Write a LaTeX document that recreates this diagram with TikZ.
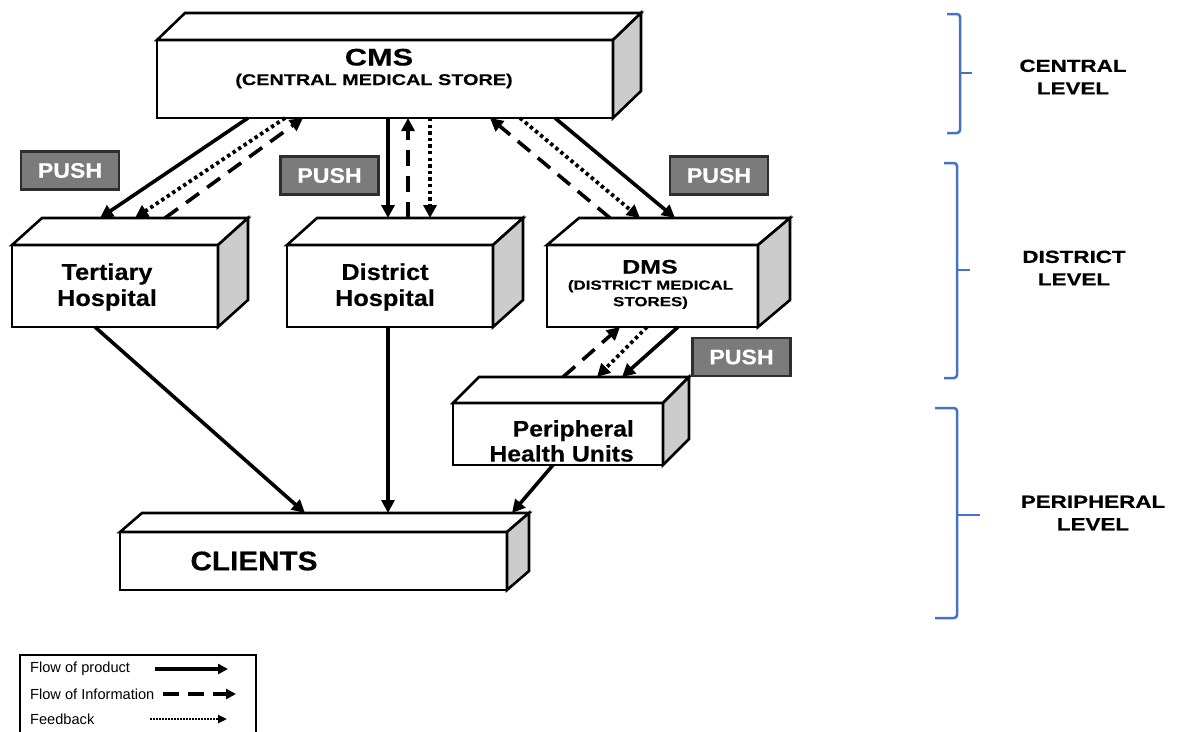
\documentclass[tikz,border=0pt]{standalone}
\usepackage{fontspec}
\setmainfont{Liberation Sans}
\newfontfamily\wide{Liberation Sans}[FakeStretch=1.1,FakeBold=0.3]
\newfontfamily\wider{Liberation Sans}[FakeStretch=1.28,FakeBold=0.3]
\newfontfamily\widest{Liberation Sans}[FakeStretch=1.28,FakeBold=0.6]
\usetikzlibrary{arrows.meta,calc}

\definecolor{sidegray}{HTML}{CCCCCC}
\definecolor{pushgray}{HTML}{7B7B7B}
\definecolor{pushedge}{HTML}{2E2E2E}
\definecolor{levelblue}{HTML}{4472C4}

% front face of a block, with its top and right faces drawn from its anchors
\newcommand\blockfaces[3]{%
  \draw[face, fill=white] (#1.north west) -- ++(#2,-#3)
    -- ([shift={(#2,-#3)}]#1.north east) -- (#1.north east) -- cycle;
  \draw[face, fill=sidegray] (#1.north east) -- ++(#2,-#3)
    -- ([shift={(#2,-#3)}]#1.south east) -- (#1.south east) -- cycle;}

\begin{document}
\begin{tikzpicture}[x=1pt,y=-1pt,
  face/.style={draw=black, line width=2.6pt, line join=miter},
  front/.style={face, fill=white, rectangle, inner sep=0pt, outer sep=0pt},
  boxtext/.style={font=\wide\bfseries, align=center, inner sep=0pt},
  pushbox/.style={draw=pushedge, fill=pushgray, line width=2.4pt, minimum width=98pt,
    minimum height=38pt, inner sep=0pt, text=white, font=\wide\bfseries\fontsize{21}{22}\selectfont},
  tip/.style={-{Triangle[length=13pt,width=13pt]}},
  product/.style={tip, line width=3.6pt},
  info/.style={tip, line width=3.6pt, dash pattern=on 16pt off 10pt},
  feedback/.style={tip, line width=3.8pt, dash pattern=on 3.4pt off 3.2pt},
  bracket/.style={draw=levelblue, line width=2.5pt, rounded corners=3pt},
  leveltext/.style={font=\widest\bfseries\fontsize{17.5}{22.5}\selectfont, align=center, inner sep=0pt},
  legendtext/.style={font=\fontsize{14.6}{16}\selectfont, anchor=west, inner sep=0pt}
]
\useasboundingbox (0,0) rectangle (1177,731);

% ---- blocks ----
\node[front, minimum width=456pt, minimum height=78pt] (cms) at (385,79) {};
\blockfaces{cms}{28}{27}
\node[boxtext, anchor=base, font=\wider\bfseries\fontsize{24}{26}\selectfont] (cmsname) at (379,65.5) {CMS};
\node[boxtext, anchor=base, font=\wider\bfseries\fontsize{15.5}{17}\selectfont] (cmsfull) at (374,85) {(CENTRAL MEDICAL STORE)};

\node[front, minimum width=206pt, minimum height=82pt] (tert) at (115,286) {};
\blockfaces{tert}{30}{27}
\node[boxtext, font=\wide\bfseries\fontsize{23}{26}\selectfont] (terttext) at (107,287) {Tertiary\\Hospital};

\node[front, minimum width=206pt, minimum height=82pt] (dhosp) at (390,286) {};
\blockfaces{dhosp}{30}{27}
\node[boxtext, font=\wide\bfseries\fontsize{23}{26}\selectfont] (dhosptext) at (385,287) {District\\Hospital};

\node[front, minimum width=211pt, minimum height=82pt] (dms) at (652.5,286) {};
\blockfaces{dms}{32}{27}
\node[boxtext, anchor=base, font=\wider\bfseries\fontsize{19.5}{21}\selectfont] (dmsname) at (650,273.5) {DMS};
\node[boxtext, font=\wider\bfseries\fontsize{13.2}{16.5}\selectfont] (dmsfull) at (650.5,294.5) {(DISTRICT MEDICAL\\STORES)};

\node[front, minimum width=210pt, minimum height=62pt] (phu) at (558,434) {};
\blockfaces{phu}{26}{26}
\node[boxtext, align=right, anchor=east, font=\wide\bfseries\fontsize{22.5}{25}\selectfont] (phutext) at (634,441) {Peripheral\\Health Units};

\node[front, minimum width=387pt, minimum height=58pt] (clients) at (313.5,561) {};
\blockfaces{clients}{22}{19}
\node[boxtext, font=\wide\bfseries\fontsize{27}{28}\selectfont] (clientstext) at (254,561) {CLIENTS};

% ---- PUSH tags ----
\node[pushbox] (push1) at (70,170.5) {PUSH};
\node[pushbox] (push2) at (329.5,175.5) {PUSH};
\node[pushbox] (push3) at (719,175.5) {PUSH};
\node[pushbox] (push4) at (741.5,357) {PUSH};

% ---- CMS <-> tertiary hospital ----
\draw[product]  ([shift={(-137,0)}]cms.south) -- ([shift={(-15,-27)}]tert.north);
\draw[feedback] ([shift={(-100,0)}]cms.south) -- ([shift={(20,-27)}]tert.north);
\draw[info]     ([shift={(50,-27)}]tert.north) -- ([shift={(-82,0)}]cms.south);

% ---- CMS <-> district hospital ----
\draw[product]  ([shift={(3,0)}]cms.south) -- ([shift={(-2,-27)}]dhosp.north);
\draw[info]     ([shift={(18,-27)}]dhosp.north) -- ([shift={(23,0)}]cms.south);
\draw[feedback] ([shift={(45,0)}]cms.south) -- ([shift={(40,-27)}]dhosp.north);

% ---- CMS <-> DMS ----
\draw[info]     ([shift={(-42.5,-27)}]dms.north) -- ([shift={(105,0)}]cms.south);
\draw[feedback] ([shift={(135,0)}]cms.south) -- ([shift={(-12.5,-27)}]dms.north);
\draw[product]  ([shift={(170,0)}]cms.south) -- ([shift={(22.5,-27)}]dms.north);

% ---- DMS <-> peripheral health units ----
\draw[info]     ([shift={(5,-26)}]phu.north) -- ([shift={(-32.5,0)}]dms.south);
\draw[feedback] ([shift={(-5.5,0)}]dms.south) -- ([shift={(39,-26)}]phu.north);
\draw[product]  ([shift={(25.5,0)}]dms.south) -- ([shift={(64,-26)}]phu.north);

% ---- supply to clients ----
\draw[product] ([shift={(-20,0)}]tert.south) -- ([shift={(-8.5,-19)}]clients.north);
\draw[product] ([shift={(-2,0)}]dhosp.south) -- ([shift={(74.5,-19)}]clients.north);
\draw[product] ([shift={(-5,0)}]phu.south) -- ([shift={(198.5,-19)}]clients.north);

% ---- level brackets ----
\draw[bracket] (947,14) -- (960,14) -- (960,133) -- (947,133);
\draw[levelblue, line width=2.5pt] (960,73) -- (972,73);
\draw[bracket] (944,163) -- (957,163) -- (957,378) -- (944,378);
\draw[levelblue, line width=2.5pt] (957,270) -- (970,270);
\draw[bracket] (935,408) -- (957,408) -- (957,618) -- (935,618);
\draw[levelblue, line width=2.5pt] (957,515) -- (980,515);

\node[leveltext] (central) at (1073,77) {CENTRAL\\LEVEL};
\node[leveltext] (district) at (1074,268) {DISTRICT\\LEVEL};
\node[leveltext] (peripheral) at (1093,513) {PERIPHERAL\\LEVEL};

% ---- legend ----
\draw[line width=1.5pt] (20,735) -- (20,655) -- (256,655) -- (256,735);
\node[legendtext] (lgprod) at (30,669) {Flow of product};
\node[legendtext] (lginfo) at (30,694) {Flow of Information};
\node[legendtext] (lgfeed) at (30,719) {Feedback};
\coordinate (lgprodA) at (155,669);
\coordinate (lgprodB) at (228,669);
\coordinate (lginfoA) at (163,694);
\coordinate (lginfoB) at (236,694);
\coordinate (lgfeedA) at (150,719);
\coordinate (lgfeedB) at (227,719);
\draw[-{Triangle[length=10pt,width=10pt]}, line width=3.2pt] (lgprodA) -- (lgprodB);
\draw[-{Triangle[length=10pt,width=10pt]}, line width=3.2pt, dash pattern=on 16pt off 9pt] (lginfoA) -- (lginfoB);
\draw[-{Triangle[length=9pt,width=8pt]}, line width=2.6pt, dash pattern=on 1.6pt off 1.4pt] (lgfeedA) -- (lgfeedB);
\end{tikzpicture}
\end{document}
